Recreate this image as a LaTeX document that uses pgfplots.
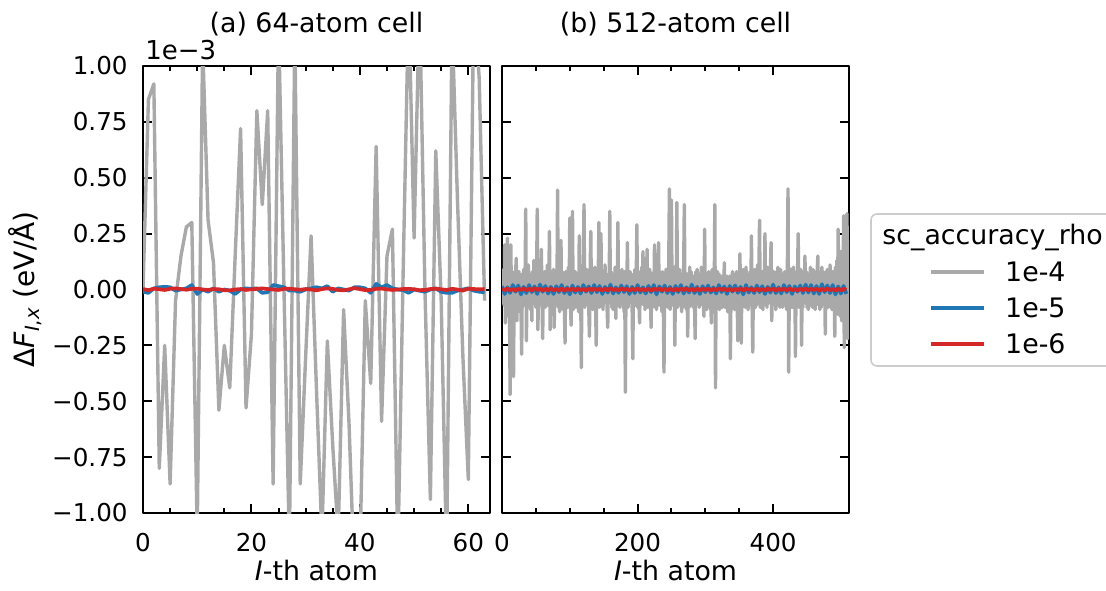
\documentclass[border=0pt]{standalone}
\usepackage{fontspec}
\setmainfont{DejaVu Sans}
\usepackage{pgfplots}
\usepackage{pgfplotstable}
\pgfplotsset{compat=1.18}
\definecolor{cgray}{HTML}{A9A9A9}
\definecolor{cblue}{HTML}{1F77B4}
\definecolor{cred}{HTML}{D62728}

% ---------- 64-atom cell ----------
\pgfplotstableread[header=false,row sep=\\]{
0.00\\ 0.85\\ 0.92\\ -0.80\\ -0.25\\ -0.87\\ -0.05\\ 0.15\\ 0.28\\ 0.30\\ -1.10\\ 1.10\\ 0.31\\ 0.12\\ -0.54\\ -0.25\\
-0.44\\ 0.15\\ 0.72\\ -0.53\\ -0.20\\ 0.80\\ 0.38\\ 0.80\\ -0.87\\ 1.20\\ 0.00\\ -1.15\\ 1.15\\ -0.87\\ -0.30\\ 0.24\\
-0.45\\ -1.10\\ -0.23\\ -0.70\\ -1.10\\ -0.09\\ -0.60\\ -1.30\\ -1.20\\ -0.05\\ -0.42\\ 0.64\\ -0.59\\ 0.15\\ 0.27\\ -1.20\\
0.10\\ 1.30\\ 0.23\\ 1.30\\ 0.00\\ -0.94\\ 0.62\\ -0.05\\ -1.20\\ 1.20\\ 0.40\\ -0.30\\ -0.85\\ 1.30\\ 0.95\\ -0.05\\
}\grayL
\pgfplotstableread[header=false,row sep=\\]{
-0.010\\ -0.015\\ 0.005\\ 0.010\\ 0.012\\ 0.010\\ -0.005\\ 0.000\\ 0.005\\ 0.020\\ -0.020\\ 0.000\\ -0.010\\ 0.005\\ -0.010\\ 0.000\\
-0.005\\ -0.020\\ 0.000\\ 0.005\\ 0.003\\ 0.005\\ -0.015\\ -0.012\\ 0.020\\ 0.015\\ 0.010\\ -0.005\\ -0.005\\ -0.010\\ 0.000\\ 0.005\\
0.010\\ 0.005\\ 0.015\\ -0.010\\ 0.005\\ 0.000\\ -0.005\\ 0.010\\ 0.010\\ 0.005\\ -0.015\\ 0.025\\ 0.010\\ 0.020\\ 0.005\\ 0.000\\
-0.003\\ -0.015\\ 0.000\\ -0.005\\ -0.010\\ 0.000\\ 0.005\\ -0.010\\ -0.015\\ -0.015\\ -0.005\\ 0.000\\ 0.005\\ -0.005\\ -0.010\\ -0.012\\
}\blueL
\pgfplotstableread[header=false,row sep=\\]{
0.002\\ -0.003\\ 0.004\\ 0.001\\ -0.002\\ 0.003\\ 0.005\\ 0.002\\ -0.001\\ 0.003\\ 0.004\\ 0.000\\ -0.002\\ 0.002\\ 0.001\\ -0.003\\
-0.004\\ 0.000\\ 0.002\\ -0.002\\ 0.001\\ 0.003\\ 0.005\\ 0.002\\ 0.000\\ -0.002\\ 0.003\\ 0.004\\ 0.001\\ -0.001\\ 0.002\\ 0.000\\
-0.004\\ 0.002\\ 0.005\\ 0.003\\ -0.002\\ -0.004\\ 0.001\\ 0.006\\ 0.002\\ -0.003\\ -0.002\\ 0.003\\ 0.004\\ 0.001\\ -0.002\\ 0.000\\
0.002\\ 0.003\\ 0.001\\ -0.003\\ -0.002\\ 0.002\\ 0.004\\ 0.001\\ -0.002\\ 0.003\\ 0.000\\ -0.005\\ 0.004\\ 0.002\\ 0.001\\ 0.002\\
}\redL

% ---------- 512-atom cell ----------
\pgfplotstableread[header=false,row sep=\\]{
0.04\\ -0.06\\ 0.09\\ -0.07\\ 0.20\\ -0.15\\ 0.07\\ -0.12\\ 0.23\\ -0.04\\ 0.13\\ -0.06\\ -0.47\\ 0.20\\ -0.07\\ 0.08\\
-0.04\\ -0.39\\ 0.06\\ -0.08\\ 0.07\\ 0.14\\ -0.14\\ 0.04\\ -0.10\\ 0.08\\ -0.05\\ 0.06\\ -0.08\\ -0.29\\ 0.07\\ -0.05\\
0.09\\ -0.07\\ 0.03\\ 0.36\\ -0.23\\ 0.06\\ -0.08\\ 0.11\\ -0.04\\ 0.07\\ -0.09\\ 0.05\\ -0.14\\ 0.08\\ -0.06\\ 0.13\\
-0.06\\ 0.08\\ -0.08\\ 0.04\\ 0.36\\ -0.18\\ 0.06\\ -0.07\\ 0.10\\ -0.05\\ 0.18\\ -0.03\\ -0.22\\ 0.07\\ -0.06\\ 0.08\\
-0.08\\ 0.06\\ -0.04\\ 0.11\\ -0.07\\ 0.03\\ 0.26\\ -0.18\\ 0.06\\ -0.08\\ 0.08\\ -0.05\\ 0.09\\ -0.17\\ 0.04\\ -0.07\\
0.08\\ -0.06\\ 0.445\\ -0.08\\ 0.07\\ -0.10\\ 0.05\\ 0.22\\ -0.06\\ 0.08\\ -0.09\\ 0.06\\ -0.07\\ -0.24\\ 0.08\\ -0.04\\
0.06\\ -0.08\\ 0.10\\ -0.05\\ 0.32\\ -0.07\\ -0.16\\ 0.08\\ 0.35\\ -0.09\\ 0.06\\ -0.06\\ 0.08\\ -0.08\\ 0.04\\ -0.06\\
0.07\\ -0.10\\ 0.24\\ -0.07\\ 0.05\\ -0.35\\ 0.08\\ -0.06\\ 0.11\\ 0.38\\ -0.08\\ 0.04\\ -0.07\\ 0.09\\ -0.05\\ 0.06\\
-0.08\\ -0.21\\ 0.07\\ 0.26\\ -0.06\\ 0.08\\ -0.09\\ 0.05\\ -0.06\\ 0.10\\ -0.04\\ -0.25\\ 0.08\\ -0.07\\ 0.06\\ 0.30\\
-0.08\\ 0.06\\ 0.25\\ -0.07\\ 0.04\\ -0.09\\ 0.08\\ -0.06\\ 0.11\\ -0.05\\ 0.07\\ -0.08\\ -0.17\\ 0.06\\ -0.04\\ 0.35\\
-0.06\\ 0.08\\ -0.08\\ 0.05\\ -0.09\\ 0.07\\ -0.04\\ 0.10\\ -0.13\\ 0.06\\ -0.07\\ 0.30\\ -0.06\\ 0.08\\ -0.08\\ 0.04\\
-0.07\\ 0.09\\ -0.05\\ 0.06\\ -0.10\\ 0.08\\ -0.46\\ 0.06\\ -0.07\\ 0.21\\ -0.08\\ 0.05\\ -0.06\\ 0.08\\ -0.04\\ 0.07\\
-0.08\\ -0.31\\ 0.06\\ -0.06\\ 0.09\\ -0.07\\ 0.04\\ 0.29\\ -0.08\\ 0.07\\ -0.05\\ -0.15\\ 0.08\\ -0.06\\ 0.10\\ -0.04\\
0.17\\ -0.07\\ 0.06\\ -0.09\\ 0.08\\ -0.05\\ 0.18\\ -0.08\\ 0.06\\ -0.06\\ 0.09\\ -0.04\\ -0.17\\ 0.07\\ -0.08\\ 0.05\\
-0.06\\ 0.20\\ -0.08\\ 0.06\\ -0.09\\ 0.07\\ -0.05\\ 0.21\\ -0.07\\ 0.08\\ -0.04\\ 0.06\\ -0.10\\ 0.08\\ -0.06\\ -0.37\\
0.07\\ -0.08\\ 0.09\\ -0.05\\ 0.06\\ -0.08\\ 0.11\\ 0.45\\ -0.09\\ 0.06\\ 0.40\\ -0.07\\ 0.08\\ -0.06\\ 0.10\\ -0.25\\
0.08\\ -0.06\\ 0.39\\ -0.08\\ 0.05\\ -0.07\\ 0.09\\ -0.04\\ 0.07\\ -0.10\\ 0.06\\ -0.08\\ 0.08\\ 0.38\\ -0.06\\ 0.06\\
-0.09\\ 0.07\\ -0.21\\ 0.05\\ -0.08\\ 0.10\\ -0.06\\ 0.08\\ -0.07\\ 0.04\\ -0.08\\ 0.06\\ -0.05\\ -0.22\\ 0.08\\ -0.06\\
0.09\\ -0.04\\ 0.07\\ -0.08\\ 0.06\\ -0.07\\ 0.10\\ -0.05\\ 0.08\\ -0.06\\ -0.12\\ 0.27\\ -0.06\\ 0.07\\ -0.09\\ 0.05\\
-0.08\\ 0.08\\ -0.04\\ 0.06\\ -0.07\\ -0.15\\ 0.09\\ -0.06\\ 0.07\\ -0.08\\ 0.38\\ -0.44\\ 0.06\\ -0.06\\ 0.08\\ -0.05\\
0.07\\ -0.09\\ 0.04\\ -0.07\\ 0.06\\ -0.08\\ 0.05\\ -0.06\\ 0.12\\ -0.08\\ 0.03\\ -0.06\\ 0.06\\ -0.10\\ 0.04\\ -0.07\\
0.06\\ -0.31\\ 0.05\\ -0.08\\ 0.08\\ -0.06\\ 0.07\\ -0.09\\ 0.04\\ -0.07\\ 0.08\\ -0.06\\ -0.23\\ 0.06\\ -0.08\\ 0.16\\
-0.05\\ -0.24\\ 0.07\\ -0.08\\ 0.09\\ -0.06\\ 0.06\\ -0.08\\ 0.10\\ -0.04\\ 0.07\\ -0.09\\ 0.06\\ -0.06\\ 0.08\\ -0.07\\
0.24\\ -0.06\\ -0.28\\ 0.08\\ -0.05\\ 0.09\\ -0.08\\ 0.06\\ -0.07\\ 0.11\\ -0.06\\ 0.08\\ 0.31\\ -0.08\\ 0.05\\ -0.06\\
0.08\\ -0.09\\ 0.07\\ -0.04\\ 0.25\\ -0.07\\ 0.06\\ -0.08\\ 0.10\\ -0.05\\ 0.08\\ -0.06\\ 0.09\\ 0.21\\ -0.14\\ 0.06\\
-0.07\\ 0.08\\ -0.06\\ 0.06\\ -0.09\\ 0.08\\ -0.04\\ 0.10\\ -0.07\\ 0.05\\ -0.08\\ 0.09\\ -0.06\\ 0.07\\ -0.08\\ 0.06\\
-0.05\\ 0.08\\ -0.07\\ 0.06\\ -0.09\\ 0.08\\ 0.45\\ -0.37\\ 0.07\\ -0.06\\ 0.09\\ -0.08\\ 0.05\\ -0.08\\ 0.10\\ -0.06\\
0.07\\ -0.30\\ 0.08\\ -0.06\\ 0.06\\ 0.25\\ -0.08\\ 0.05\\ -0.07\\ 0.09\\ -0.25\\ 0.06\\ -0.08\\ 0.08\\ -0.05\\ 0.15\\
-0.06\\ 0.08\\ -0.08\\ 0.06\\ -0.09\\ 0.07\\ -0.05\\ 0.10\\ -0.07\\ 0.06\\ -0.08\\ 0.09\\ -0.06\\ 0.08\\ -0.09\\ 0.05\\
-0.07\\ 0.08\\ 0.15\\ -0.06\\ 0.07\\ -0.09\\ 0.06\\ -0.08\\ 0.10\\ -0.05\\ 0.08\\ -0.07\\ 0.06\\ -0.20\\ 0.08\\ -0.06\\
0.09\\ -0.08\\ 0.07\\ -0.06\\ 0.11\\ -0.08\\ 0.06\\ -0.09\\ 0.08\\ -0.07\\ 0.06\\ -0.21\\ 0.10\\ -0.08\\ 0.13\\ -0.11\\
0.27\\ -0.10\\ 0.15\\ -0.12\\ 0.17\\ -0.14\\ 0.15\\ -0.11\\ 0.33\\ -0.26\\ 0.19\\ -0.15\\ 0.25\\ 0.34\\ -0.22\\ 0.22\\
}\grayR
\pgfplotstableread[header=false,row sep=\\]{
0.015\\ -0.020\\ 0.010\\ -0.015\\ 0.020\\ -0.010\\ 0.018\\ -0.022\\ 0.012\\ -0.016\\ 0.020\\ -0.012\\ 0.014\\ -0.020\\ 0.022\\ -0.010\\
0.016\\ -0.018\\ 0.012\\ -0.020\\ 0.015\\ -0.012\\ 0.020\\ -0.016\\ 0.010\\ -0.022\\ 0.018\\ -0.014\\ 0.012\\ -0.018\\ 0.020\\ -0.010\\
0.014\\ -0.016\\ 0.020\\ -0.012\\ 0.016\\ -0.020\\ 0.012\\ -0.014\\ 0.022\\ -0.018\\ 0.010\\ -0.015\\ 0.018\\ -0.012\\ 0.015\\ -0.020\\
0.012\\ -0.016\\ 0.020\\ -0.014\\ 0.010\\ -0.018\\ 0.016\\ -0.012\\ 0.020\\ -0.022\\ 0.014\\ -0.010\\ 0.018\\ -0.016\\ 0.012\\ -0.020\\
0.016\\ -0.012\\ 0.020\\ -0.018\\ 0.010\\ -0.014\\ 0.022\\ -0.016\\ 0.012\\ -0.020\\ 0.015\\ -0.012\\ 0.018\\ -0.014\\ 0.010\\ -0.018\\
0.020\\ -0.012\\ 0.014\\ -0.020\\ 0.016\\ -0.010\\ 0.018\\ -0.015\\ 0.012\\ -0.022\\ 0.020\\ -0.014\\ 0.010\\ -0.016\\ 0.018\\ -0.012\\
0.015\\ -0.020\\ 0.012\\ -0.014\\ 0.022\\ -0.016\\ 0.010\\ -0.018\\ 0.020\\ -0.012\\ 0.016\\ -0.020\\ 0.014\\ -0.010\\ 0.018\\ -0.016\\
0.022\\ -0.014\\ 0.020\\ -0.018\\ 0.016\\ -0.020\\ 0.024\\ -0.012\\ 0.018\\ -0.016\\ 0.020\\ -0.022\\ 0.014\\ -0.018\\ 0.016\\ -0.020\\
}\blueR
\pgfplotstableread[header=false,row sep=\\]{
0.004\\ -0.003\\ 0.005\\ -0.004\\ 0.002\\ -0.005\\ 0.004\\ -0.002\\ 0.005\\ -0.003\\ 0.003\\ -0.004\\ 0.006\\ -0.002\\ 0.004\\ -0.005\\
0.003\\ -0.004\\ 0.005\\ -0.003\\ 0.002\\ -0.004\\ 0.004\\ -0.005\\ 0.003\\ -0.002\\ 0.005\\ -0.004\\ 0.004\\ -0.003\\ 0.002\\ -0.005\\
0.005\\ -0.003\\ 0.004\\ -0.002\\ 0.003\\ -0.005\\ 0.004\\ -0.004\\ 0.006\\ -0.003\\ 0.002\\ -0.004\\ 0.005\\ -0.002\\ 0.003\\ -0.005\\
0.004\\ -0.003\\ 0.005\\ -0.004\\ 0.002\\ -0.003\\ 0.004\\ -0.005\\ 0.003\\ -0.002\\ 0.005\\ -0.004\\ 0.003\\ -0.003\\ 0.004\\ -0.005\\
0.003\\ -0.004\\ 0.005\\ -0.002\\ 0.004\\ -0.003\\ 0.002\\ -0.005\\ 0.005\\ -0.004\\ 0.003\\ -0.002\\ 0.004\\ -0.005\\ 0.003\\ -0.003\\
0.005\\ -0.002\\ 0.004\\ -0.004\\ 0.003\\ -0.005\\ 0.002\\ -0.003\\ 0.005\\ -0.004\\ 0.004\\ -0.002\\ 0.003\\ -0.005\\ 0.004\\ -0.003\\
0.002\\ -0.004\\ 0.005\\ -0.003\\ 0.004\\ -0.005\\ 0.003\\ -0.002\\ 0.004\\ -0.004\\ 0.005\\ -0.003\\ 0.002\\ -0.005\\ 0.004\\ -0.003\\
0.005\\ -0.004\\ 0.003\\ -0.002\\ 0.004\\ -0.005\\ 0.003\\ -0.004\\ 0.005\\ -0.003\\ 0.002\\ -0.004\\ 0.004\\ -0.005\\ 0.003\\ -0.002\\
}\redR

\newcommand{\labfont}{\fontsize{13.4}{16}\selectfont}
\newcommand{\tickfont}{\fontsize{12.3}{14.8}\selectfont}

\pgfplotsset{
  panel/.style={
    scale only axis, width=173.5pt, height=223.5pt,
    ymin=-1, ymax=1,
    ytick={-1,-0.75,-0.5,-0.25,0,0.25,0.5,0.75,1},
    tick align=inside, xtick pos=both, ytick pos=both,
    major tick length=4.3pt, minor tick length=2.5pt,
    every tick/.style={black, line width=1pt},
    axis line style={line width=1pt},
    font=\labfont,
    tick label style={font=\tickfont},
    xticklabel style={inner sep=0pt, anchor=north, yshift=-10pt},
    yticklabel style={inner sep=0pt, anchor=east, xshift=-7.5pt},
    xlabel={\textit{I}-th atom},
    xlabel style={at={(axis description cs:0.5,0)}, anchor=base, yshift=-33.5pt, inner sep=0pt},
    every axis title/.style={at={(axis description cs:0.5,1)}, anchor=base, yshift=16.8pt, inner sep=0pt, font=\labfont},
    line join=round,
  },
  grayline/.style={color=cgray, line width=1.7pt, no markers},
  blueline/.style={color=cblue, line width=1.85pt, no markers},
  redline/.style={color=cred, line width=1.85pt, no markers},
}

\begin{document}
\begin{tikzpicture}
% legend frame and title
\draw[draw=black!20, fill=white, rounded corners=3pt, line width=0.8pt] (435.5pt,112pt) rectangle (562pt,188pt);
\node[anchor=base west, inner sep=0pt, font=\labfont] at (441pt,173pt) {sc\_accuracy\_rho};

\begin{axis}[panel,
  at={(71.5pt,38.5pt)}, anchor=south west,
  xmin=0, xmax=64,
  xtick={0,20,40,60}, xticklabels={0,20,40,60},
  minor x tick num=3,
  yticklabels={−1.00,−0.75,−0.50,−0.25,0.00,0.25,0.50,0.75,1.00},
  title={(a) 64-atom cell},
  ylabel={Δ\textit{F}\textsubscript{\textit{I},\textit{x}} (eV/Å)},
  ylabel style={at={(axis description cs:-0.291,0.5)}, anchor=south, inner sep=0pt, font=\fontsize{14}{16}\selectfont},
]
\addplot[grayline] table[x expr=\coordindex, y index=0] {\grayL};
\addplot[blueline] table[x expr=\coordindex, y index=0] {\blueL};
\addplot[redline] table[x expr=\coordindex, y index=0] {\redL};
\end{axis}

\begin{axis}[panel,
  at={(251pt,38.5pt)}, anchor=south west,
  xmin=0, xmax=512,
  xtick={0,200,400}, xticklabels={0,200,400},
  minor x tick num=3,
  yticklabels={},
  title={(b) 512-atom cell},
  legend style={draw=none, fill=none, inner sep=0pt, outer sep=0pt,
    at={(axis description cs:1.2312,0.561)}, anchor=north west,
    row sep=8.2pt, font=\labfont,
    nodes={inner sep=0pt, text height=9.8pt, text depth=0pt, anchor=west},
    /tikz/every odd column/.append style={column sep=9.5pt}},
  legend cell align=left,
  legend image code/.code={\draw[#1, line width=2pt] (0pt,0pt) -- (26.5pt,0pt);},
]
\addplot[grayline] table[x expr=\coordindex, y index=0] {\grayR};
\addlegendentry{1e-4}
\addplot[blueline] table[x expr=4*\coordindex, y index=0] {\blueR};
\addlegendentry{1e-5}
\addplot[redline] table[x expr=4*\coordindex, y index=0] {\redR};
\addlegendentry{1e-6}
\end{axis}

\node[anchor=base west, inner sep=0pt, font=\fontsize{13}{15}\selectfont] at (72.5pt,265pt) {1e−3};

\pgfresetboundingbox
\useasboundingbox (0pt,0pt) rectangle (553pt,295pt);
\end{tikzpicture}
\end{document}
